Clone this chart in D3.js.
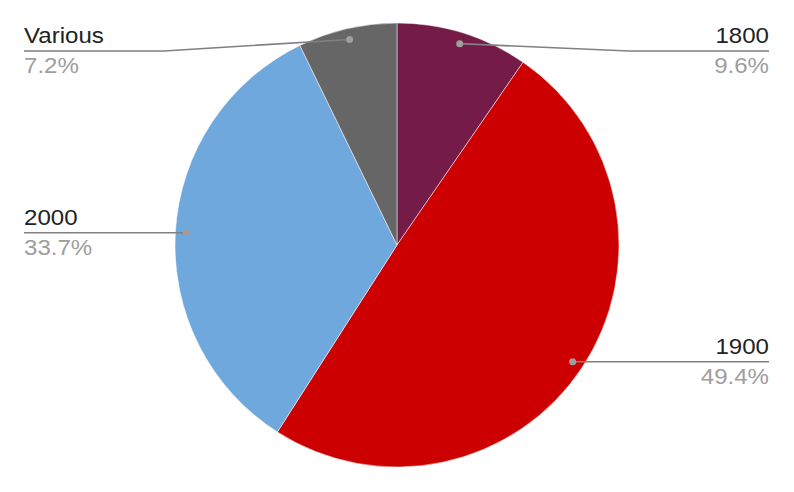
<!DOCTYPE html>
<html>
<head>
<meta charset="utf-8">
<script src="https://cdn.jsdelivr.net/npm/d3@7"></script>
<style>
  body { margin: 0; background: #fff; }
  svg { display: block; font-family: "Liberation Sans", Arial, sans-serif; }
</style>
</head>
<body>
<div id="chart"></div>
<script>
// chart data
const categories = ["1800", "1900", "2000", "Various"];
const values = [9.6, 49.4, 33.7, 7.2];
const colors = ["#741b47", "#cc0000", "#6fa8dc", "#666666"];

const width = 794, height = 492;
const cx = 397, cy = 245, radius = 222;

const svg = d3.select("#chart")
  .append("svg")
  .attr("width", width)
  .attr("height", height);

const pie = d3.pie().sort(null).value(d => d.value);
const arcs = pie(categories.map((c, i) => ({ name: c, value: values[i], color: colors[i] })));
const arc = d3.arc().innerRadius(0).outerRadius(radius);
const dotArc = d3.arc().innerRadius(radius * 0.95).outerRadius(radius * 0.95);

const g = svg.append("g").attr("transform", `translate(${cx},${cy})`);

g.selectAll("path")
  .data(arcs)
  .join("path")
  .attr("d", arc)
  .attr("fill", d => d.data.color)
  .attr("stroke", "#fff")
  .attr("stroke-width", 0.5);

// leader lines + labels
const leftX = 24, rightX = 769, elbow = 140;
const total = d3.sum(values);

function label(x, y, anchor, fill, txt) {
  // text in the reference is a bit wider than Arial at this height
  svg.append("g")
    .attr("transform", `translate(${x},${y}) scale(1.12,1)`)
    .append("text")
    .attr("text-anchor", anchor)
    .attr("font-size", 21.5)
    .attr("fill", fill)
    .text(txt);
}

arcs.forEach(d => {
  const [px, py] = dotArc.centroid(d);
  const dotX = cx + px, dotY = cy + py;
  const mid = (d.startAngle + d.endAngle) / 2;
  const right = mid < Math.PI;
  const lineY = Math.max(dotY, 51);
  const edgeX = right ? rightX : leftX;
  const elbowX = right ? rightX - elbow : leftX + elbow;

  svg.append("path")
    .attr("d", d3.line()([[dotX, dotY], [elbowX, lineY], [edgeX, lineY]]))
    .attr("fill", "none")
    .attr("stroke", "#808080")
    .attr("stroke-width", 1.6);

  svg.append("circle")
    .attr("cx", dotX).attr("cy", dotY).attr("r", 3.5)
    .attr("fill", "#9e9e9e");

  const anchor = right ? "end" : "start";
  label(edgeX, lineY - 8, anchor, "#222", d.data.name);
  label(edgeX, lineY + 22, anchor, "#9e9e9e", `${(d.data.value / total * 100).toFixed(1)}%`);
});
</script>
</body>
</html>
